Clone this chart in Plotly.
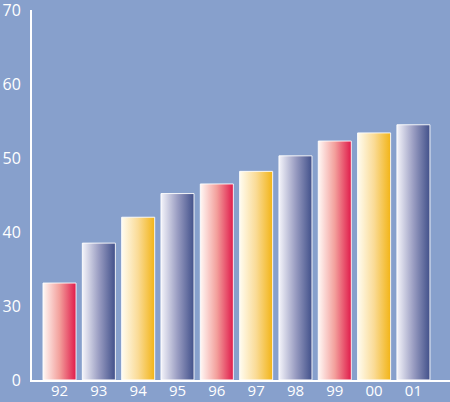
import plotly.graph_objects as go

# Yearly values, one bar per year
years = ["92", "93", "94", "95", "96", "97", "98", "99", "00", "01"]
values = [33.1, 38.5, 42.0, 45.2, 46.5, 48.2, 50.3, 52.3, 53.4, 54.5]
palette = ["red", "blue", "yellow", "blue", "red", "yellow", "blue", "red", "yellow", "blue"]

# Y axis is broken: the baseline labelled "0" sits one step below 30
axis_floor = 20
tick_vals = [20, 30, 40, 50, 60, 70]
tick_text = ["0", "30", "40", "50", "60", "70"]

gradients = {
    "red": [[0, "#FFF8F5"], [0.5, "#F3A09C"], [1, "#E01A4A"]],
    "yellow": [[0, "#FFFCF0"], [0.5, "#FADB96"], [1, "#F2B416"]],
    "blue": [[0, "#F4F4FA"], [0.5, "#9A9DC2"], [1, "#41508A"]],
}

bar_width = 0.84
bg = "#87A0CC"

fig = go.Figure()
for i, (yr, v, c) in enumerate(zip(years, values, palette)):
    x0, x1 = i - bar_width / 2, i + bar_width / 2
    fig.add_trace(go.Scatter(
        x=[x0, x0, x1, x1, x0],
        y=[axis_floor, v, v, axis_floor, axis_floor],
        mode="lines",
        fill="toself",
        fillgradient=dict(type="horizontal", colorscale=gradients[c]),
        line=dict(color="rgba(255,255,255,0.9)", width=1),
        hoverinfo="text",
        text=f"{yr}: {v}",
        showlegend=False,
        cliponaxis=False,
    ))

fig.update_layout(
    template="none",
    width=450,
    height=402,
    margin=dict(l=32, r=0, t=10, b=22, autoexpand=False),
    paper_bgcolor=bg,
    plot_bgcolor=bg,
    font=dict(family="Open Sans", color="white", size=16),
    xaxis=dict(
        range=[-0.70, 9.93],
        tickvals=list(range(len(years))),
        ticktext=years,
        tickfont=dict(size=15),
        showgrid=False,
        zeroline=False,
        showline=True,
        linecolor="white",
        linewidth=2,
        ticks="",
        ticklabelstandoff=-4,
        automargin=False,
        fixedrange=True,
    ),
    yaxis=dict(
        range=[axis_floor - 0.01, 70.02],
        tickvals=tick_vals,
        ticktext=tick_text,
        showgrid=False,
        zeroline=False,
        showline=True,
        linecolor="white",
        linewidth=2,
        ticks="",
        ticklabelstandoff=6,
        automargin=False,
        ticklabeloverflow="allow",
        fixedrange=True,
    ),
)

fig.write_html("out.html")
